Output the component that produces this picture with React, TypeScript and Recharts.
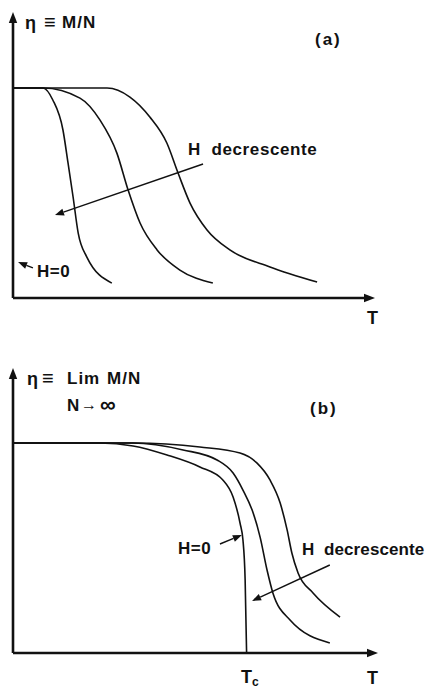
import React from "react"
import { LineChart, Line, XAxis, YAxis, ReferenceLine } from "recharts"

// temperature axis runs 0..10 (arbitrary units), eta normalised to 1 at the plateau
const T_MAX = 10
const ETA_MAX_A = 1.362
const ETA_MAX_B = 1.357

// (a) finite N, three fields, H decreasing to the left
const tA1 = [0, 0.47, 0.83, 1.1, 1.38, 1.52, 1.66, 1.8, 2.04, 2.73]
const etaA1 = [1, 1, 1, 0.943, 0.8, 0.643, 0.481, 0.31, 0.195, 0.071]
const tA2 = [0, 0.83, 1.85, 2.4, 2.87, 3.18, 3.51, 3.98, 4.61, 5.52]
const etaA2 = [1, 1, 0.952, 0.848, 0.69, 0.514, 0.357, 0.229, 0.133, 0.071]
const tA3 = [0, 1.38, 2.6, 3.23, 3.78, 4.25, 4.56, 4.89, 5.36, 5.99, 7.1, 8.4]
const etaA3 = [1, 1, 1, 0.957, 0.862, 0.738, 0.595, 0.452, 0.324, 0.229, 0.148, 0.076]

// (b) thermodynamic limit, H=0 curve drops to zero at Tc
const T_C = 6.4
const tB0 = [0, 2.38, 3.29, 4.22, 5.12, 5.75, 6.03, 6.22, 6.3, 6.36, T_C]
const etaB0 = [1, 1, 0.986, 0.943, 0.886, 0.824, 0.743, 0.619, 0.538, 0.348, 0]
const tB1 = [0, 3.29, 4.66, 5.59, 6.03, 6.3, 6.58, 6.77, 6.96, 7.12, 7.59, 8.68]
const etaB1 = [1, 1, 0.967, 0.919, 0.857, 0.776, 0.667, 0.552, 0.395, 0.286, 0.157, 0.048]
const tB2 = [0, 3.29, 5.12, 6.22, 6.68, 7.04, 7.32, 7.51, 7.64, 7.81, 8.22, 8.96]
const etaB2 = [1, 1, 0.981, 0.952, 0.905, 0.824, 0.714, 0.586, 0.476, 0.381, 0.286, 0.171]

// annotation arrows [tFrom, etaFrom, tTo, etaTo]
const arrowA = [5.25, 0.638, 1.16, 0.395]
const arrowAH0 = [0.55, 0.143, 0.14, 0.171]
const arrowB = [8.68, 0.419, 6.55, 0.248]
const arrowBH0 = [5.67, 0.519, 6.27, 0.562]

const zip = (t: number[], e: number[]) => t.map((v, i) => ({ t: v, eta: e[i] }))

const INK = "#111"
const FONT = "'Liberation Sans', Arial, sans-serif"

const makeArrow = (width: number, head: number, hw: number) => (props: any) => {
  const { x1, y1, x2, y2 } = props
  const a = Math.atan2(y2 - y1, x2 - x1)
  const bx = x2 - head * Math.cos(a)
  const by = y2 - head * Math.sin(a)
  const px = -Math.sin(a) * hw
  const py = Math.cos(a) * hw
  return (
    <g>
      <line x1={x1} y1={y1} x2={bx} y2={by} stroke={INK} strokeWidth={width} />
      <polygon points={`${x2},${y2} ${bx + px},${by + py} ${bx - px},${by - py}`} fill={INK} />
    </g>
  )
}

const Arrow = makeArrow(1.4, 9, 3.5)
// axis line with a solid head at its far end
const AxisArrow = makeArrow(2.6, 11, 4.2)

const seg = (a: number[]) => [{ x: a[0], y: a[1] }, { x: a[2], y: a[3] }]

interface PanelProps {
  height: number
  margin: any
  etaMax: number
  series: { t: number; eta: number }[][]
  arrows: number[][]
}

const Panel = (props: PanelProps) => {
  return (
    <LineChart width={426} height={props.height} margin={props.margin}>
      <XAxis type="number" dataKey="t" domain={[0, T_MAX]} allowDataOverflow height={0} tick={false} tickLine={false} axisLine={false} />
      <YAxis type="number" dataKey="eta" domain={[0, props.etaMax]} allowDataOverflow width={0} tick={false} tickLine={false} axisLine={false} />
      {props.series.map((d, i) => (
        <Line
          key={i}
          data={d}
          dataKey="eta"
          type="monotone"
          stroke={INK}
          strokeWidth={1.6}
          dot={false}
          activeDot={false}
          isAnimationActive={false}
        />
      ))}
      {props.arrows.map((a, i) => (
        <ReferenceLine key={"ar" + i} segment={seg(a)} ifOverflow="visible" shape={Arrow} />
      ))}
      <ReferenceLine segment={[{ x: 0, y: 0 }, { x: 0, y: props.etaMax }]} ifOverflow="visible" shape={AxisArrow} />
      <ReferenceLine segment={[{ x: 0, y: 0 }, { x: T_MAX, y: 0 }]} ifOverflow="visible" shape={AxisArrow} />
    </LineChart>
  )
}

const txt = { fontFamily: FONT, fontWeight: 700, fill: INK } as const

export default function App() {
  return (
    <div style={{ position: "absolute", left: 0, top: 0, width: 426, height: 688, background: "#fff" }}>
      <div style={{ position: "absolute", left: 0, top: 0 }}>
        <Panel
          height={330}
          margin={{ top: 12, right: 51, bottom: 32, left: 13 }}
          etaMax={ETA_MAX_A}
          series={[zip(tA1, etaA1), zip(tA2, etaA2), zip(tA3, etaA3)]}
          arrows={[arrowA, arrowAH0]}
        />
      </div>
      <div style={{ position: "absolute", left: 0, top: 340 }}>
        <Panel
          height={348}
          margin={{ top: 28, right: 48, bottom: 35, left: 13 }}
          etaMax={ETA_MAX_B}
          series={[zip(tB0, etaB0), zip(tB1, etaB1), zip(tB2, etaB2)]}
          arrows={[arrowB, arrowBH0]}
        />
      </div>
      <svg width={426} height={688} style={{ position: "absolute", left: 0, top: 0, pointerEvents: "none" }}>
        <text x={25} y={29} fontSize={18} {...txt}>η</text>
        <text x={44} y={29} fontSize={20} {...txt}>≡</text>
        <text x={62} y={28} fontSize={17} letterSpacing={1} {...txt}>M/N</text>
        <text x={315} y={45} fontSize={17} letterSpacing={2} {...txt}>(a)</text>
        <text x={188} y={155} fontSize={17} letterSpacing={0.6} {...txt} xmlSpace="preserve">H  decrescente</text>
        <text x={37} y={277} fontSize={17} letterSpacing={0.5} {...txt}>H=0</text>
        <text x={367} y={324} fontSize={18} {...txt}>T</text>

        <text x={27} y={385} fontSize={18} {...txt}>η</text>
        <text x={42} y={385} fontSize={20} {...txt}>≡</text>
        <text x={67} y={384} fontSize={17} letterSpacing={1} {...txt}>Lim</text>
        <text x={107} y={384} fontSize={17} letterSpacing={1} {...txt}>M/N</text>
        <text x={67} y={411} fontSize={17} {...txt}>N</text>
        <text x={81} y={410} fontSize={16} {...txt}>→</text>
        <text x={100} y={412} fontSize={22} {...txt}>∞</text>
        <text x={310} y={414} fontSize={17} letterSpacing={2} {...txt}>(b)</text>
        <text x={178} y={554} fontSize={17} letterSpacing={0.5} {...txt}>H=0</text>
        <text x={302} y={555} fontSize={17} letterSpacing={0.1} {...txt} xmlSpace="preserve">H  decrescente</text>
        <text x={241} y={683} fontSize={18} {...txt}>T</text>
        <text x={252} y={686} fontSize={12} {...txt}>c</text>
        <text x={367} y={684} fontSize={18} {...txt}>T</text>
      </svg>
    </div>
  )
}
